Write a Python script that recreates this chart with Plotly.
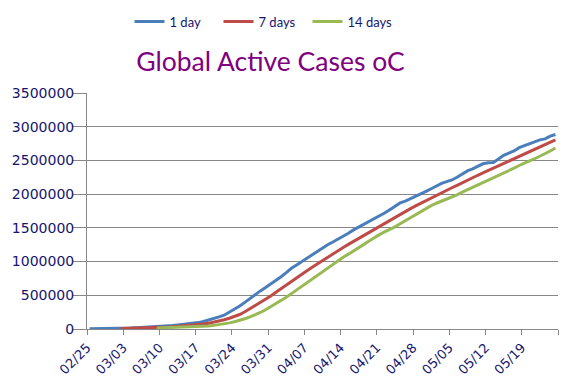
import pandas as pd
import plotly.graph_objects as go

# ---- data ----
start_day = "2020-02-25 12:00"
n_days = 91

one_day = [
    2600, 2900, 3500, 4300, 5800, 7600, 9000, 11500, 14000, 17500,
    21000, 25000, 29000, 33000, 38000, 45000, 52000, 60000, 68000, 76000,
    85000, 95000, 112000, 132000, 158000, 180000, 205000, 250000, 290000, 340000,
    395000, 455000, 510000, 565000, 615000, 665000, 720000, 775000, 835000, 900000,
    950000, 1000000, 1050000, 1100000, 1150000, 1205000, 1250000, 1290000, 1330000, 1370000,
    1420000, 1470000, 1510000, 1560000, 1600000, 1640000, 1680000, 1720000, 1770000, 1820000,
    1870000, 1895000, 1930000, 1960000, 1995000, 2040000, 2080000, 2120000, 2160000, 2185000,
    2210000, 2250000, 2300000, 2345000, 2375000, 2410000, 2450000, 2465000, 2470000, 2520000,
    2575000, 2610000, 2640000, 2690000, 2720000, 2755000, 2780000, 2805000, 2820000, 2860000,
    2885000,
]

seven_days = [
    None, None, None, None, None, None, 6000, 7500, 9000, 11000,
    13000, 15500, 18000, 21000, 25000, 29000, 34000, 39000, 45000, 51000,
    57000, 65000, 74000, 86000, 100000, 118000, 138000, 160000, 185000, 215000,
    255000, 300000, 345000, 395000, 440000, 490000, 545000, 600000, 655000, 710000,
    760000, 815000, 865000, 915000, 965000, 1020000, 1070000, 1115000, 1165000, 1210000,
    1255000, 1300000, 1345000, 1390000, 1435000, 1480000, 1525000, 1570000, 1615000, 1660000,
    1705000, 1745000, 1785000, 1825000, 1865000, 1905000, 1945000, 1985000, 2025000, 2060000,
    2095000, 2130000, 2170000, 2210000, 2245000, 2280000, 2315000, 2350000, 2380000, 2410000,
    2445000, 2480000, 2515000, 2550000, 2585000, 2620000, 2655000, 2690000, 2725000, 2765000,
    2805000,
]

fourteen_days = [
    None, None, None, None, None, None, None, None, None, None,
    None, None, None, 15000, 17000, 19000, 21000, 23000, 25000, 28000,
    31000, 35000, 40000, 46000, 54000, 64000, 76000, 91000, 108000, 128000,
    152000, 180000, 210000, 245000, 285000, 330000, 375000, 420000, 470000, 525000,
    580000, 635000, 690000, 745000, 795000, 850000, 905000, 960000, 1010000, 1065000,
    1110000, 1155000, 1205000, 1255000, 1305000, 1355000, 1400000, 1440000, 1475000, 1515000,
    1560000, 1605000, 1655000, 1700000, 1745000, 1790000, 1830000, 1865000, 1895000, 1925000,
    1955000, 1990000, 2030000, 2065000, 2100000, 2130000, 2165000, 2200000, 2240000, 2280000,
    2315000, 2350000, 2385000, 2425000, 2465000, 2495000, 2525000, 2560000, 2600000, 2640000,
    2685000,
]

series_names = ["1 day", "7 days", "14 days"]
series_colors = ["#4A7EBB", "#BE4B48", "#98B954"]

tick_dates = ["2020-02-25", "2020-03-03", "2020-03-10", "2020-03-17", "2020-03-24",
              "2020-03-31", "2020-04-07", "2020-04-14", "2020-04-21", "2020-04-28",
              "2020-05-05", "2020-05-12", "2020-05-19", "2020-05-26"]
tick_labels = ["02/25", "03/03", "03/10", "03/17", "03/24", "03/31", "04/07",
               "04/14", "04/21", "04/28", "05/05", "05/12", "05/19", ""]

y_ticks = [0, 500000, 1000000, 1500000, 2000000, 2500000, 3000000, 3500000]

dates = pd.date_range(start_day, periods=n_days, freq="D")

NAVY = "#15156E"
GRID = "#878787"

# The page body has an 8px margin; the figure is sized/offset to compensate.
OFF = 8
W, H = 577 - 2 * OFF, 384 - 2 * OFF
L, R, T, B = 87 - OFF, W - (558 - OFF), 93 - OFF, H - (329 - OFF)
PH = H - T - B
PW = W - L - R

fig = go.Figure()
for name, color, vals in zip(series_names, series_colors,
                             [one_day, seven_days, fourteen_days]):
    fig.add_trace(go.Scatter(
        x=dates, y=vals, name=name, mode="lines",
        line=dict(color=color, width=3),
        connectgaps=False,
    ))

fig.update_layout(
    width=W, height=H,
    margin=dict(l=L, r=R, t=T, b=B, autoexpand=False),
    paper_bgcolor="white", plot_bgcolor="white",
    title=dict(
        text="Global Active Cases oC",
        font=dict(family="Lato", size=26.5, color="#800080"),
        xref="container", yref="container",
        x=(270.5 - OFF) / W, y=1 - (62 - OFF) / H,
        xanchor="center", yanchor="middle",
    ),
    legend=dict(
        orientation="h",
        x=(263 - 87) / PW, xanchor="center",
        y=(329 - 21.5) / PH, yanchor="middle",
        font=dict(family="Lato", size=13, color=NAVY),
        bgcolor="rgba(0,0,0,0)",
        itemwidth=30,
        entrywidth=44, entrywidthmode="pixels",
        tracegroupgap=0,
    ),
    showlegend=True,
)

fig.update_xaxes(
    type="date", automargin=False,
    range=["2020-02-25", "2020-05-26"],
    tickmode="array", tickvals=tick_dates, ticktext=tick_labels,
    tickangle=-45,
    ticks="outside", ticklen=5, tickcolor=GRID, tickwidth=1,
    showline=True, linecolor=GRID, linewidth=1,
    showgrid=False, zeroline=False,
    tickfont=dict(family="DejaVu Sans", size=13, color=NAVY),
)

fig.update_yaxes(
    range=[0, 3500000], automargin=False,
    tickmode="array", tickvals=y_ticks, ticktext=[str(v) for v in y_ticks],
    ticks="outside", ticklen=14, tickcolor=GRID, tickwidth=1,
    ticklabelstandoff=-5,
    showline=True, linecolor=GRID, linewidth=1,
    showgrid=True, gridcolor=GRID, gridwidth=1,
    zeroline=False,
    tickfont=dict(family="DejaVu Sans", size=14, color=NAVY),
)

fig.write_html("out.html")
